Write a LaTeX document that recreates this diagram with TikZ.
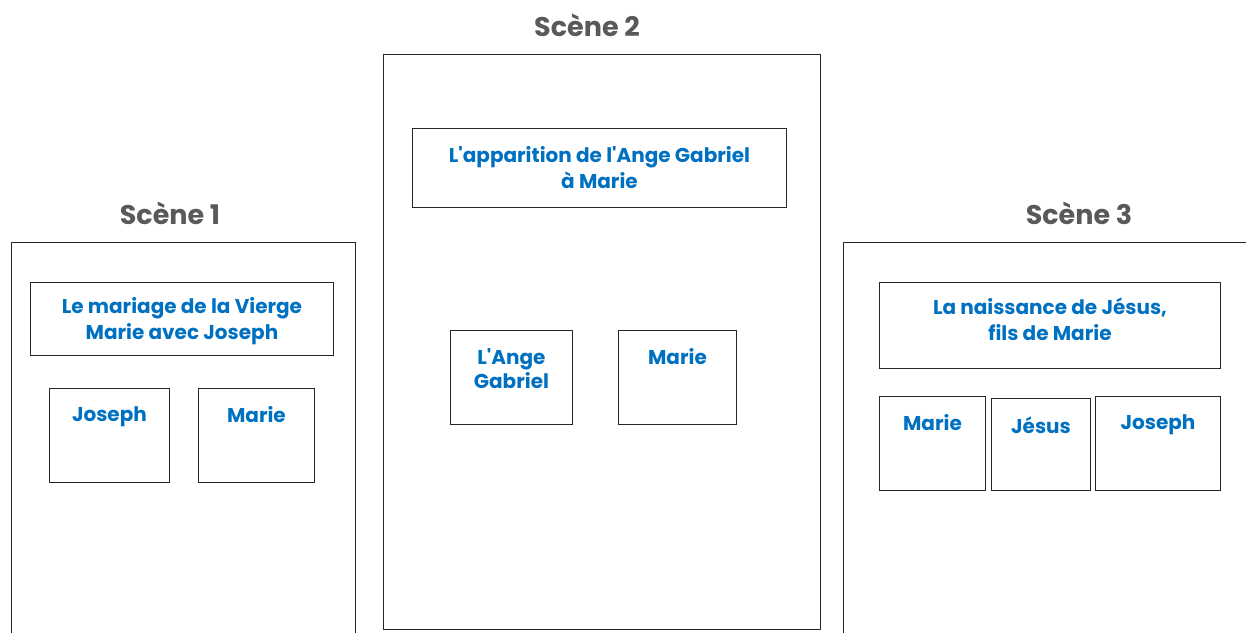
\documentclass[tikz,border=0pt]{standalone}
\usepackage{fontspec}
\setmainfont{Poppins}
\usepackage{xcolor}
\usepackage{tikz}
\usetikzlibrary{positioning}
\definecolor{SceneBlue}{RGB}{0,112,192}
\definecolor{SceneGrey}{RGB}{89,89,89}
\newcommand{\apos}{\textquotesingle}

\begin{document}
\begin{tikzpicture}[x=1pt, y=-1pt]
	\tikzset{
		scene/.style={draw=black!85, line width=0.9pt, anchor=north west, inner sep=0pt},
		titre/.style={font=\fontsize{27}{30}\selectfont\bfseries, text=SceneGrey},
		resume/.style={draw=black!85, line width=0.9pt, anchor=north west, inner sep=0pt,
			align=center, text=SceneBlue, font=\fontsize{20}{26}\selectfont\bfseries},
		perso/.style={draw=black!85, line width=0.9pt, anchor=north west, inner sep=0pt},
		lbl/.style={anchor=north, yshift=-15pt, align=center, text=SceneBlue,
			font=\fontsize{20}{24}\selectfont\bfseries}
	}
	\useasboundingbox (0,0) rectangle (1246,632);
	\clip (0,0) rectangle (1246,632);
	% cadres des scenes
	\node[scene, minimum width=344pt, minimum height=420pt] (s1) at (11,242) {};
	\node[scene, minimum width=437pt, minimum height=575pt] (s2) at (383,54) {};
	\node[scene, minimum width=420pt, minimum height=420pt] (s3) at (843,242) {};
	\node[titre] (t1) at (170,213) {Scène 1};
	\node[titre] (t2) at (587,25) {Scène 2};
	\node[titre] (t3) at (1079,213) {Scène 3};
	% scene 1
	\node[resume, minimum width=303pt, minimum height=73pt, text depth=0pt] (r1) at (30,282)
		{Le mariage de la Vierge\\Marie avec Joseph};
	\node[perso, minimum width=120pt, minimum height=94pt,
		label={[lbl]north:Joseph}] (p11) at (49,388) {};
	\node[perso, minimum width=116pt, minimum height=94pt,
		label={[lbl]north:Marie}] (p12) at (198,388) {};
	% scene 2
	\node[resume, minimum width=374pt, minimum height=79pt] (r2) at (412,128)
		{L\apos apparition de l\apos Ange Gabriel\\à Marie};
	\node[perso, minimum width=122pt, minimum height=94pt,
		label={[lbl]north:L\apos Ange\\Gabriel}] (p21) at (450,330) {};
	\node[perso, minimum width=118pt, minimum height=94pt,
		label={[lbl]north:Marie}] (p22) at (618,330) {};
	% scene 3
	\node[resume, minimum width=341pt, minimum height=86pt, text depth=13pt] (r3) at (879,282)
		{La naissance de Jésus,\\fils de Marie};
	\node[perso, minimum width=106pt, minimum height=94pt,
		label={[lbl]north:Marie}] (p31) at (879,396) {};
	\node[perso, minimum width=99pt, minimum height=92pt,
		label={[lbl]north:Jésus}] (p32) at (991,398) {};
	\node[perso, minimum width=125pt, minimum height=94pt,
		label={[lbl]north:Joseph}] (p33) at (1095,396) {};
\end{tikzpicture}
\end{document}
